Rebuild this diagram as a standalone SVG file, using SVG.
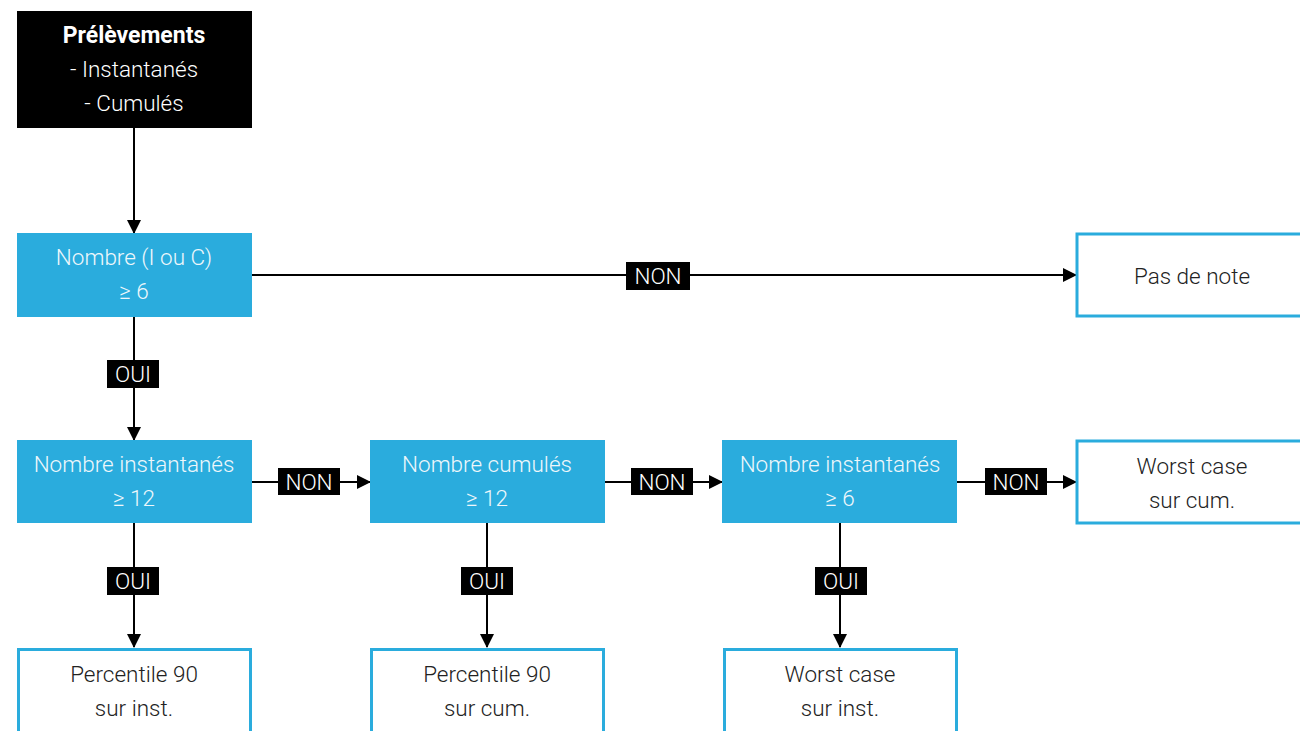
<svg xmlns="http://www.w3.org/2000/svg" width="1300" height="731" viewBox="0 0 1300 731">
<defs>
<marker id="ah" viewBox="0 0 14 14" markerWidth="14" markerHeight="14" refX="13" refY="7" orient="auto" markerUnits="userSpaceOnUse">
<path d="M0,0 L14,7 L0,14 Z" fill="#000"/>
</marker>
<style>
text{font-family:Roboto,"Liberation Sans",sans-serif;font-size:22.5px;font-weight:300;text-anchor:middle}
text.t{font-weight:700;font-size:23px}
.b rect{fill:#2aacdd}
.b text{fill:#eef7fb}
.w rect{fill:#fff;stroke:#2aacdd;stroke-width:3}
.w text{fill:#222}
.c line{stroke:#000;stroke-width:2}
.lab rect{fill:#000}
.lab text{fill:#fff}
</style>
</defs>
<rect width="1300" height="731" fill="#fff"/>
<g class="c">
<line x1="134" y1="128" x2="134" y2="233" marker-end="url(#ah)"/>
<line x1="252" y1="275" x2="1076" y2="275" marker-end="url(#ah)"/>
<line x1="134" y1="317" x2="134" y2="440" marker-end="url(#ah)"/>
<line x1="252" y1="482" x2="370" y2="482" marker-end="url(#ah)"/>
<line x1="605" y1="482" x2="722" y2="482" marker-end="url(#ah)"/>
<line x1="957" y1="482" x2="1076" y2="482" marker-end="url(#ah)"/>
<line x1="134" y1="523" x2="134" y2="647" marker-end="url(#ah)"/>
<line x1="487" y1="523" x2="487" y2="647" marker-end="url(#ah)"/>
<line x1="840" y1="523" x2="840" y2="647" marker-end="url(#ah)"/>
<g class="lab">
<rect x="626" y="262" width="64" height="28"/><text x="658" y="284">NON</text>
<rect x="107" y="360" width="52" height="28"/><text x="133" y="382">OUI</text>
<rect x="278" y="468" width="62" height="27"/><text x="309" y="490">NON</text>
<rect x="631" y="468" width="62" height="27"/><text x="662" y="490">NON</text>
<rect x="985" y="468" width="62" height="27"/><text x="1016" y="490">NON</text>
<rect x="107" y="567" width="52" height="28"/><text x="133" y="589">OUI</text>
<rect x="461" y="567" width="52" height="28"/><text x="487" y="589">OUI</text>
<rect x="815" y="567" width="52" height="28"/><text x="841" y="589">OUI</text>
</g>
</g>
<g id="prelevements">
<rect x="17" y="11" width="235" height="117" fill="#000"/>
<text class="t" x="134" y="43" fill="#fff">Prélèvements</text>
<text x="134" y="77" fill="#fff">- Instantanés</text>
<text x="134" y="111" fill="#fff">- Cumulés</text>
</g>
<g id="nombre-ic" class="b">
<rect x="17" y="233" width="235" height="84"/>
<text x="134" y="265">Nombre (I ou C)</text>
<text x="134" y="299">≥ 6</text>
</g>
<g id="pas-de-note" class="w">
<rect x="1077" y="234" width="230" height="82"/>
<text x="1192" y="284">Pas de note</text>
</g>
<g id="nombre-inst-12" class="b">
<rect x="17" y="440" width="235" height="83"/>
<text x="134" y="472">Nombre instantanés</text>
<text x="134" y="506">≥  12</text>
</g>
<g id="nombre-cum-12" class="b">
<rect x="370" y="440" width="235" height="83"/>
<text x="487" y="472">Nombre cumulés</text>
<text x="487" y="506">≥  12</text>
</g>
<g id="nombre-inst-6" class="b">
<rect x="722" y="440" width="235" height="83"/>
<text x="840" y="472">Nombre instantanés</text>
<text x="840" y="506">≥ 6</text>
</g>
<g id="worst-cum" class="w">
<rect x="1077" y="441" width="230" height="82"/>
<text x="1192" y="474">Worst case</text>
<text x="1192" y="508">sur cum.</text>
</g>
<g id="p90-inst" class="w">
<rect x="18.5" y="649.5" width="232" height="90"/>
<text x="134" y="682">Percentile 90</text>
<text x="134" y="716">sur inst.</text>
</g>
<g id="p90-cum" class="w">
<rect x="371.5" y="649.5" width="232" height="90"/>
<text x="487" y="682">Percentile 90</text>
<text x="487" y="716">sur cum.</text>
</g>
<g id="worst-inst" class="w">
<rect x="724.5" y="649.5" width="232" height="90"/>
<text x="840" y="682">Worst case</text>
<text x="840" y="716">sur inst.</text>
</g>
</svg>
